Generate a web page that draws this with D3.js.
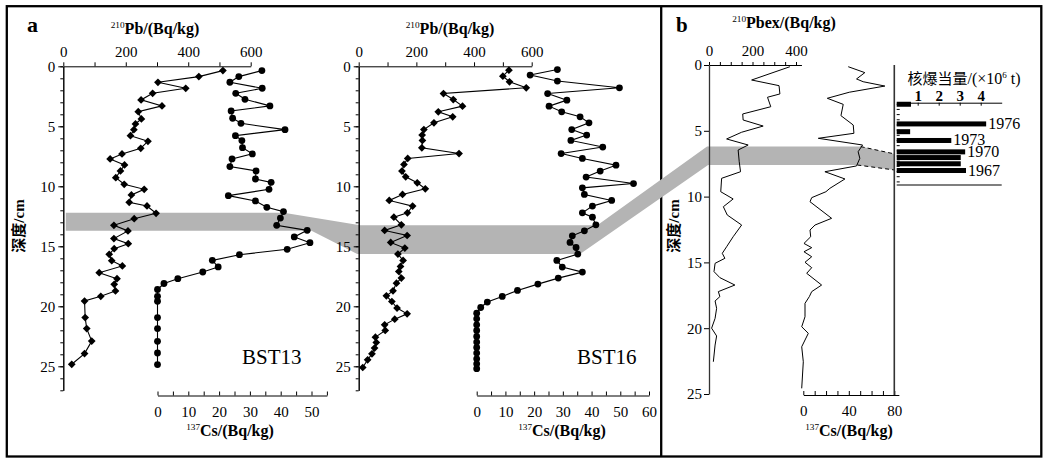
<!DOCTYPE html>
<html><head><meta charset="utf-8">
<script src="https://cdn.jsdelivr.net/npm/d3@7"></script>
<style>
body{margin:0;background:#fff}
svg text{font-family:"Liberation Serif","Times New Roman",serif;fill:#000}
</style>
</head><body>
<svg id="c" width="1048" height="462"></svg>
<script>
// ---------------- DATA ----------------
// [depth (cm), value]
const bst13Pb = [[0.36,511],[0.86,434],[1.33,303],[1.83,392],[2.25,286],[2.8,249],[3.3,316],[3.78,240],[4.39,250],[4.8,231],[5.28,226],[5.78,215],[6.25,271],[6.83,248],[7.3,188],[7.72,150],[8.22,196],[8.72,183],[9.28,168],[9.83,195],[10.25,259],[10.72,218],[11.33,211],[11.64,268],[12.25,297],[12.7,227],[13.25,162],[13.72,207],[14.36,162],[14.78,208],[15.2,163],[15.67,147],[16.2,155],[16.64,189],[17.2,115],[17.7,172],[18.17,163],[18.72,167],[19.17,120],[19.56,68],[20.94,70],[21.86,75],[22.9,91],[23.94,68],[24.83,27]];
const bst13Cs = [[0.36,33.9],[0.86,26.4],[1.33,23.5],[1.83,34.0],[2.25,25.4],[2.75,28.4],[3.3,36.5],[3.72,23.9],[4.33,24.4],[4.75,27.1],[5.28,41.4],[5.78,25.3],[6.19,27.4],[6.78,27.6],[7.3,30.8],[7.72,24.2],[8.36,23.5],[8.72,32.0],[9.39,31.8],[9.67,36.9],[10.25,36.2],[10.78,23.0],[11.22,31.8],[11.75,35.5],[12.11,40.9],[12.65,39.9],[13.25,38.7],[13.67,48.6],[14.22,44.4],[14.7,49.5],[15.25,42.1],[15.7,26.6],[16.17,17.8],[16.72,19.7],[17.14,14.7],[17.7,6.6],[18.1,2.1],[18.6,0],[19.17,0],[19.58,0],[20.94,0],[21.86,0],[22.92,0],[23.89,0],[24.86,0]];
const bst16Pb = [[0.32,521],[0.82,500],[1.29,523],[1.79,581],[2.27,294],[2.77,328],[3.32,360],[3.79,276],[4.21,326],[4.71,261],[5.27,226],[5.73,220],[6.18,221],[6.79,219],[7.27,348],[7.68,170],[8.18,157],[8.73,150],[9.21,163],[9.71,203],[10.21,231],[10.68,152],[11.18,106],[11.65,187],[12.21,169],[12.57,122],[13.21,148],[13.68,90],[14.1,168],[14.68,111],[15.15,160],[15.65,136],[16.18,154],[16.68,145],[17.1,139],[17.65,148],[18.07,131],[18.71,119],[19.13,96],[19.6,115],[20.15,133],[20.63,168],[21.07,125],[21.54,90],[22.01,92],[22.57,58],[23.01,61],[23.48,55],[23.96,46],[24.46,31],[25.1,14]];
const bst16Cs = [[0.27,28.1],[0.73,18.6],[1.23,28.1],[1.79,49.7],[2.27,24.7],[2.82,31.4],[3.32,25.2],[3.79,29.6],[4.21,36.0],[4.71,39.1],[5.27,33.1],[5.73,38.3],[6.18,32.8],[6.73,43.9],[7.27,29.4],[7.68,36.8],[8.24,48.5],[8.73,43.0],[9.23,38.1],[9.77,54.6],[10.13,36.8],[10.68,37.5],[11.18,47.0],[11.65,40.3],[12.21,36.8],[12.57,40.3],[13.21,41.5],[13.71,37.5],[14.13,33.3],[14.68,32.5],[15.1,34.6],[15.65,35.2],[16.18,27.9],[16.73,29.8],[17.15,36.8],[17.65,28.4],[18.15,21.3],[18.68,14.2],[19.18,8.9],[19.65,3.7],[20.1,1.4],[20.57,0],[21.04,0],[21.54,0],[22.01,0],[22.51,0],[22.98,0],[23.43,0],[23.9,0],[24.38,0],[24.79,0],[25.2,0]];
const panelBPbex = [[0.13,372],[1.14,196],[1.57,322],[2.2,326],[2.45,269],[3.17,284],[3.72,155],[4.18,157],[4.64,249],[5.11,150],[5.62,81],[6.08,180],[6.46,134],[7.35,139],[8.11,145],[8.61,58],[9.63,54],[10.18,111],[10.77,66],[11.4,84],[12.16,150],[13.05,111],[13.81,81],[14.31,61],[14.69,73],[15.07,28],[15.7,23],[16.16,50],[16.72,119],[17.22,43],[17.6,50],[17.93,28],[18.49,35],[19.25,28],[20.0,12],[20.59,35],[21.28,28],[22.55,20]];
const panelBCs = [[0.13,39.5],[0.58,54.1],[1.06,46.8],[1.27,52.6],[1.6,71.7],[2.07,40.4],[2.53,21.1],[2.99,35.1],[3.85,33.1],[4.56,43.9],[5.19,44.5],[5.57,13.2],[6.08,52.1],[6.59,48.2],[7.09,49.7],[7.67,46.8],[8.11,19.0],[8.66,36.6],[9.37,23.4],[9.63,19.9],[10.08,7.4],[10.39,5.9],[11.65,24.9],[12.16,10.3],[12.54,5.9],[13.05,6.5],[13.56,0.6],[13.88,7.4],[14.19,0.6],[14.57,7.4],[14.99,1.5],[15.4,7.4],[15.83,3.0],[16.72,16.1],[17.22,7.4],[17.6,5.3],[18.11,1.5],[19.13,1.5],[19.89,-1.4],[20.39,4.4],[21.41,-1.4],[22.55,0],[24.57,-1.4]];
const bombYears  = [1980, 1976.2, 1974.7, 1973, 1970.8, 1969.7, 1968.5, 1967.2];
const bombYield  = [0.68, 4.26, 0.64, 2.6, 3.26, 3.05, 3.05, 3.3];
const bombLabels = ["", "1976", "", "1973", "1970", "", "", "1967"];
const depthTicks = [0,5,10,15,20,25];
const pbTicks = [0,200,400,600];
const cs13Ticks = [0,10,20,30,40,50];
const cs16Ticks = [0,10,20,30,40,50,60];
const pbexTicks = [0,200,400];
const csbTicks = [0,40,80];
const yieldTicks = [1,2,3,4];
// correlated layer (depth ranges)
const band13 = [12.2, 13.7];
const band16 = [13.25, 15.65];
const bandB  = [6.2, 7.6];
const bandBYears = [1970.4, 1967.3];

// ---------------- SCALES ----------------
const svg = d3.select('#c');
const y13 = d3.scaleLinear().domain([0,27]).range([66.3, 66.3+27*12]);
const y16 = d3.scaleLinear().domain([0,27]).range([66.3, 66.3+27*12]);
const xPb13 = d3.scaleLinear().domain([0,600]).range([63.3,250.7]);
const xCs13 = d3.scaleLinear().domain([0,55]).range([157.5,157.5+55*3.08]);
const xPb16 = d3.scaleLinear().domain([0,600]).range([358.7,531.7]);
const xCs16 = d3.scaleLinear().domain([0,60]).range([476.7,649]);
const yb = d3.scaleLinear().domain([0,25]).range([65,394]);
const xPbex = d3.scaleLinear().domain([0,425]).range([709,709+425*0.2175]);
const xCsb = d3.scaleLinear().domain([0,84]).range([803.3,803.3+84*1.1375]);
const xBar = d3.scaleLinear().domain([0,5]).range([896.7,1001.7]);
const yBar = d3.scaleLinear().domain([1980.3,1964.4]).range([102.7,185]);

const SERIF = '"Liberation Serif","Times New Roman",serif';
const CJK = '"Noto Sans CJK SC","Noto Sans CJK JP",sans-serif';

function styleAxis(g, fs, bold){
  g.attr('font-family', SERIF).attr('font-size', fs);
  if(bold) g.attr('font-weight','bold');
  g.selectAll('path,line').attr('stroke','#000').attr('stroke-width',1);
  g.selectAll('text').attr('fill','#000');
  return g;
}

// ---------------- FRAME ----------------
svg.append('rect').attr('x',6.8).attr('y',6.2).attr('width',1034.5).attr('height',450.3)
  .attr('fill','none').attr('stroke','#000').attr('stroke-width',2.3);
svg.append('line').attr('x1',661.2).attr('x2',661.2).attr('y1',6.2).attr('y2',456.5)
  .attr('stroke','#000').attr('stroke-width',2.3);

// ---------------- GREY BAND ----------------
const bandTop = [
  [xPb13(8), y13(band13[0])], [xCs13(41), y13(band13[0])],
  [xPb16(5), y16(band16[0])], [xCs16(42), y16(band16[0])],
  [xPbex(-9), yb(bandB[0])], [xCsb(50.5), yb(bandB[0])],
  [xBar(-0.1), yBar(bandBYears[0])]
];
const bandBot = [
  [xBar(-0.1), yBar(bandBYears[1])], [xCsb(47.5), yb(bandB[1])],
  [xPbex(-4), yb(bandB[1])], [xCs16(36), y16(band16[1])],
  [xPb16(-5), y16(band16[1])], [xCs13(50), y13(band13[1])],
  [xPb13(8), y13(band13[1])]
];
svg.append('path').attr('d', d3.line()(bandTop.concat(bandBot)) + 'Z')
  .attr('fill','#b4b4b4').attr('stroke','none');
// dashed connectors
[[bandTop[5], bandTop[6]], [bandBot[1], bandBot[0]]].forEach(s=>{
  svg.append('line').attr('x1',s[0][0]).attr('y1',s[0][1]).attr('x2',s[1][0]).attr('y2',s[1][1])
    .attr('stroke','#000').attr('stroke-width',1).attr('stroke-dasharray','4,3');
});

// ---------------- PANEL a AXES ----------------
function panelA(xPb, xCs, y, csTicks, csMax){
  const x0 = xPb(0);
  styleAxis(svg.append('g').attr('transform',`translate(${x0},0)`)
    .call(d3.axisLeft(y).tickValues(d3.range(0,28)).tickSize(3).tickSizeOuter(0).tickFormat('')), 15);
  styleAxis(svg.append('g').attr('transform',`translate(${x0},0)`)
    .call(d3.axisLeft(y).tickValues(depthTicks).tickSize(5).tickPadding(3).tickSizeOuter(0)), 15);
  styleAxis(svg.append('g').attr('transform',`translate(0,${y(0)})`)
    .call(d3.axisTop(xPb).tickValues(d3.range(0,601,100)).tickSize(4).tickPadding(5).tickSizeOuter(0)
      .tickFormat(d => pbTicks.includes(d) ? d : '')), 15);
  styleAxis(svg.append('g').attr('transform',`translate(0,395.5)`)
    .call(d3.axisBottom(xCs).tickValues(d3.range(0,csMax+1,5)).tickSizeInner(-4).tickSizeOuter(0).tickPadding(10.5)
      .tickFormat(d => csTicks.includes(d) ? d : '')), 15);
}
panelA(xPb13, xCs13, y13, cs13Ticks, 55);
panelA(xPb16, xCs16, y16, cs16Ticks, 60);

// ---------------- PANEL a DATA ----------------
function series(data, x, y, kind){
  svg.append('path').datum(data)
    .attr('d', d3.line().x(d=>x(d[1])).y(d=>y(d[0])))
    .attr('fill','none').attr('stroke','#000').attr('stroke-width',1.1);
  if(kind==='diamond'){
    svg.append('g').selectAll('path').data(data).join('path')
      .attr('d', d3.symbol(d3.symbolSquare, 30)())
      .attr('transform', d=>`translate(${x(d[1])},${y(d[0])}) rotate(45)`)
      .attr('fill','#000');
  } else {
    svg.append('g').selectAll('circle').data(data).join('circle')
      .attr('cx', d=>x(d[1])).attr('cy', d=>y(d[0])).attr('r',3.4).attr('fill','#000');
  }
}
series(bst13Pb, xPb13, y13, 'diamond');
series(bst13Cs, xCs13, y13, 'circle');
series(bst16Pb, xPb16, y16, 'diamond');
series(bst16Cs, xCs16, y16, 'circle');

// ---------------- PANEL b AXES ----------------
styleAxis(svg.append('g').attr('transform',`translate(${xPbex(0)},0)`)
  .call(d3.axisLeft(yb).tickValues(depthTicks).tickSize(5).tickPadding(2).tickSizeOuter(0)), 15)
  .select('.domain').attr('stroke','#333').attr('stroke-width',1.3);
styleAxis(svg.append('g').attr('transform',`translate(0,${yb(0)})`)
  .call(d3.axisTop(xPbex).tickValues(d3.range(0,401,50)).tickSize(3).tickPadding(6).tickSizeOuter(0)
    .tickFormat(d => pbexTicks.includes(d) ? d : '')), 15);
styleAxis(svg.append('g').attr('transform',`translate(0,395)`)
  .call(d3.axisBottom(xCsb).tickValues(d3.range(0,81,10)).tickSizeInner(-4).tickSizeOuter(0).tickPadding(10.5)
    .tickFormat(d => csbTicks.includes(d) ? d : '')), 15);
svg.append('line').attr('x1',xCsb(80)).attr('x2',xCsb(80)).attr('y1',yb(0)).attr('y2',395)
  .attr('stroke','#333').attr('stroke-width',1.6);

svg.append('path').datum(panelBPbex).attr('d', d3.line().x(d=>xPbex(d[1])).y(d=>yb(d[0])))
  .attr('fill','none').attr('stroke','#000').attr('stroke-width',1);
svg.append('path').datum(panelBCs).attr('d', d3.line().x(d=>xCsb(d[1])).y(d=>yb(d[0])))
  .attr('fill','none').attr('stroke','#000').attr('stroke-width',1);

// ---------------- BAR CHART ----------------
styleAxis(svg.append('g').attr('transform',`translate(0,${yBar.range()[0]})`)
  .call(d3.axisTop(xBar).tickValues(yieldTicks).tickSizeInner(-3).tickSizeOuter(0).tickPadding(2)
    .tickFormat(d3.format('d'))), 15, true);
svg.append('line').attr('x1',xBar(0)).attr('x2',xBar(5)).attr('y1',yBar.range()[1]).attr('y2',yBar.range()[1])
  .attr('stroke','#000').attr('stroke-width',1.2);
svg.append('g').selectAll('line').data(d3.range(1965,1981)).join('line')
  .attr('x1',xBar(0)).attr('x2',xBar(0)+3).attr('y1',d=>yBar(d)).attr('y2',d=>yBar(d))
  .attr('stroke','#000').attr('stroke-width',1);
svg.append('g').selectAll('rect').data(bombYears).join('rect')
  .attr('x', xBar(0)).attr('y', d=>yBar(d)-2.5).attr('height',5)
  .attr('width', (d,i)=>xBar(bombYield[i])-xBar(0)).attr('fill','#000');
svg.append('g').selectAll('text').data(bombYears).join('text')
  .attr('x', (d,i)=>xBar(bombYield[i])+2).attr('y', d=>yBar(d)+5)
  .attr('font-size',16).text((d,i)=>bombLabels[i]);

// ---------------- TEXT ----------------
function supTitle(x, y, sup, main, fs){
  const t = svg.append('text').attr('x',x).attr('y',y).attr('text-anchor','middle')
    .attr('font-weight','bold').attr('font-size',fs);
  t.append('tspan').attr('font-size',fs*0.58).attr('font-weight','normal').attr('dy',-fs*0.36).text(sup);
  t.append('tspan').attr('dy',fs*0.36).text(main);
}
supTitle(155, 34, '210', 'Pb/(Bq/kg)', 16);
supTitle(450, 34, '210', 'Pb/(Bq/kg)', 16);
supTitle(230, 436, '137', 'Cs/(Bq/kg)', 16);
supTitle(562, 436, '137', 'Cs/(Bq/kg)', 16);
supTitle(849, 436, '137', 'Cs/(Bq/kg)', 16);
supTitle(784, 28, '210', 'Pbex/(Bq/kg)', 16);

svg.append('text').attr('x',27).attr('y',32).attr('font-size',22).attr('font-weight','bold').text('a');
svg.append('text').attr('x',676).attr('y',32).attr('font-size',21).attr('font-weight','bold').text('b');
svg.append('text').attr('x',242).attr('y',364).attr('font-size',21).text('BST13');
svg.append('text').attr('x',577).attr('y',364).attr('font-size',21).text('BST16');

function depthLabel(cx, cy){
  const t = svg.append('text').attr('transform',`translate(${cx},${cy}) rotate(-90)`)
    .attr('text-anchor','middle').attr('dy','0.35em').attr('font-size',15).attr('font-weight','bold');
  t.append('tspan').attr('font-family',CJK).text('深度');
  t.append('tspan').text('/cm');
}
depthLabel(19, 226);
depthLabel(674, 226);

const bt = svg.append('text').attr('x',964).attr('y',84).attr('text-anchor','middle').attr('font-size',16);
bt.append('tspan').attr('font-family',CJK).attr('font-size',15).text('核爆当量');
bt.append('tspan').text('/(×10');
bt.append('tspan').attr('font-size',9).attr('dy',-6).text('6');
bt.append('tspan').attr('dy',6).text(' t)');
</script>
</body></html>
